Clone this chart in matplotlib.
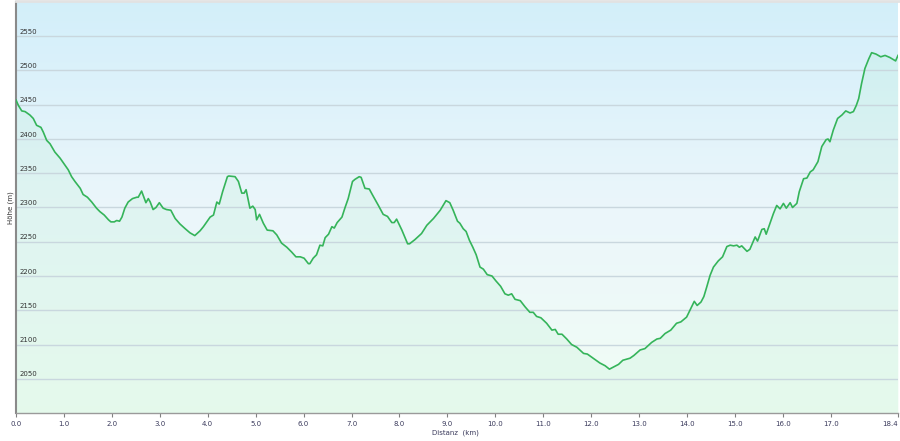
import matplotlib
matplotlib.use("Agg")
import matplotlib.pyplot as plt
import matplotlib.transforms as mtransforms
import numpy as np

######################
### Data
######################
dist_km = [
    0.00, 0.05, 0.12, 0.19, 0.29, 0.36, 0.43, 0.52, 0.57, 0.64, 0.71, 0.81, 0.92,
    1.02, 1.09, 1.16, 1.23, 1.34, 1.40, 1.49, 1.58, 1.68, 1.75, 1.84, 1.93, 1.98,
    2.05, 2.10, 2.16, 2.21, 2.27, 2.34, 2.43, 2.52, 2.55, 2.62, 2.71, 2.76, 2.80,
    2.86, 2.92, 2.99, 3.07, 3.14, 3.23, 3.32, 3.42, 3.53, 3.63, 3.73, 3.84, 3.91,
    3.98, 4.05, 4.12, 4.19, 4.24, 4.31, 4.41, 4.44, 4.57, 4.64, 4.71, 4.76, 4.80,
    4.88, 4.94, 4.99, 5.02, 5.08, 5.16, 5.24, 5.36, 5.44, 5.54, 5.65, 5.75, 5.84,
    5.93, 6.01, 6.10, 6.13, 6.20, 6.27, 6.34, 6.40, 6.45, 6.52, 6.59, 6.64, 6.70,
    6.80, 6.86, 6.93, 7.02, 7.07, 7.16, 7.20, 7.28, 7.37, 7.44, 7.56, 7.66, 7.75,
    7.84, 7.89, 7.94, 8.05, 8.17, 8.21, 8.32, 8.46, 8.57, 8.71, 8.85, 8.97, 9.05,
    9.12, 9.21, 9.26, 9.33, 9.39, 9.46, 9.53, 9.60, 9.68, 9.75, 9.83, 9.93, 10.01,
    10.11, 10.20, 10.27, 10.34, 10.41, 10.52, 10.62, 10.72, 10.79, 10.86, 10.95,
    11.07, 11.18, 11.25, 11.31, 11.39, 11.49, 11.59, 11.70, 11.84, 11.92, 12.04,
    12.18, 12.29, 12.38, 12.46, 12.57, 12.66, 12.81, 12.89, 13.02, 13.12, 13.26,
    13.37, 13.44, 13.54, 13.66, 13.78, 13.87, 13.99, 14.08, 14.15, 14.21, 14.29,
    14.35, 14.41, 14.48, 14.55, 14.65, 14.74, 14.83, 14.90, 14.97, 15.04, 15.09,
    15.14, 15.25, 15.31, 15.42, 15.47, 15.56, 15.61, 15.65, 15.73, 15.80, 15.87,
    15.94, 16.01, 16.07, 16.15, 16.20, 16.29, 16.34, 16.43, 16.50, 16.57, 16.63,
    16.73, 16.81, 16.90, 16.94, 16.98, 17.05, 17.14, 17.23, 17.31, 17.40, 17.47,
    17.53, 17.58, 17.64, 17.71, 17.79, 17.85, 17.94, 18.04, 18.13, 18.23, 18.35,
    18.40,
]
hoehe_m = [
    2457, 2449, 2441, 2440, 2435, 2430, 2420, 2417, 2410, 2398, 2393, 2381, 2372,
    2362, 2355, 2345, 2338, 2328, 2319, 2315, 2308, 2299, 2294, 2289, 2282, 2279,
    2279, 2281, 2280, 2286, 2299, 2308, 2313, 2315, 2315, 2324, 2307, 2313, 2308,
    2297, 2300, 2307, 2299, 2297, 2296, 2284, 2276, 2269, 2263, 2259, 2266, 2272,
    2279, 2286, 2289, 2308, 2305, 2323, 2345, 2346, 2345, 2338, 2321, 2321, 2326,
    2299, 2302, 2297, 2282, 2290, 2277, 2267, 2266, 2260, 2248, 2242, 2235, 2228,
    2228, 2226, 2218, 2218, 2226, 2231, 2245, 2244, 2256, 2261, 2272, 2270, 2278,
    2286, 2299, 2313, 2338, 2341, 2345, 2344, 2328, 2327, 2318, 2303, 2290, 2287,
    2278, 2278, 2283, 2267, 2247, 2247, 2253, 2262, 2274, 2284, 2296, 2310, 2307,
    2296, 2280, 2277, 2269, 2265, 2252, 2242, 2231, 2213, 2210, 2202, 2200, 2193,
    2185, 2174, 2172, 2174, 2166, 2164, 2155, 2147, 2147, 2141, 2139,
    2131, 2121, 2122, 2115, 2115, 2108, 2100, 2096, 2087, 2086, 2080,
    2073, 2069, 2064, 2067, 2071, 2077, 2080, 2084, 2092, 2094, 2103,
    2108, 2109, 2116, 2121, 2131, 2133, 2140, 2153, 2163, 2157, 2162,
    2170, 2184, 2201, 2213, 2222, 2228, 2243, 2245, 2244, 2245, 2242,
    2244, 2236, 2239, 2257, 2251, 2268, 2269, 2261, 2277, 2291, 2303,
    2298, 2306, 2299, 2307, 2300, 2306, 2323, 2342, 2343, 2352, 2355,
    2367, 2389, 2399, 2400, 2396, 2413, 2430, 2435, 2441, 2438, 2440,
    2449, 2459, 2481, 2503, 2517, 2526, 2524, 2520, 2522, 2519, 2514,
    2522,
]

y_ticks = [2050, 2100, 2150, 2200, 2250, 2300, 2350, 2400, 2450, 2500, 2550]
x_ticks = [0.0, 1.0, 2.0, 3.0, 4.0, 5.0, 6.0, 7.0, 8.0, 9.0, 10.0, 11.0, 12.0,
           13.0, 14.0, 15.0, 16.0, 17.0, 18.4]
x_tick_labels = ["%.1f" % t for t in x_ticks]

X_MIN, X_MAX = 0.0, 18.4
Y_MIN, Y_MAX = 2000, 2600

######################
### Draw
######################
fig = plt.figure(figsize=(9.0, 4.41), dpi=100, facecolor="white")
ax = fig.add_axes([16 / 900, 28 / 441, 882 / 900, 411 / 441])

# background gradient: light blue at the top, nearly white green at the bottom
stops = np.array([
    [0.827, 0.937, 0.980],   # top
    [0.922, 0.965, 0.984],   # middle
    [0.945, 0.992, 0.960],   # bottom
])
t = np.linspace(0, 1, 256)
grad = np.empty((256, 1, 3))
for c in range(3):
    grad[:, 0, c] = np.interp(t, [0, 0.5, 1], stops[:, c])
ax.imshow(grad, extent=[X_MIN, X_MAX, Y_MIN, Y_MAX], aspect="auto",
          origin="upper", zorder=0, interpolation="bilinear")

ax.fill_between(dist_km, hoehe_m, Y_MIN, color="#a6ecc2", alpha=0.16,
                linewidth=0, zorder=1)

for yt in y_ticks:
    ax.axhline(yt, color="#c9d7de", linewidth=1.0, zorder=2)

ax.plot(dist_km, hoehe_m, color="#35b45a", linewidth=1.2, zorder=3)

ax.set_xlim(X_MIN, X_MAX)
ax.set_ylim(Y_MIN, Y_MAX)

# y labels sit inside the plot, just above their grid line
ax.set_yticks([])
trans = mtransforms.blended_transform_factory(ax.transAxes, ax.transData)
for yt in y_ticks:
    ax.text(0.0045, yt + 2, str(yt), transform=trans, fontsize=5,
            color="#333333", ha="left", va="bottom", zorder=4)

ax.set_xticks(x_ticks)
ax.set_xticklabels(x_tick_labels, fontsize=5, color="#3a3a5c")
ax.get_xticklabels()[-1].set_horizontalalignment("right")
ax.tick_params(axis="x", direction="out", length=3, width=0.8,
               color="#808080", pad=3)

for side in ["top", "right"]:
    ax.spines[side].set_visible(False)
ax.spines["left"].set_color("#8a8a8a")
ax.spines["left"].set_linewidth(1.5)
ax.spines["bottom"].set_color("#9a9a9a")
ax.spines["bottom"].set_linewidth(1.0)

fig.text(455 / 900, 1 - 433 / 441, "Distanz  (km)", fontsize=5,
         color="#3a3a5c", ha="center", va="center")
fig.text(11 / 900, 1 - 208 / 441, "Höhe (m)", fontsize=5, color="#333333",
         rotation=90, ha="center", va="center")

# thin grey frame along the top edge
fig.add_artist(plt.Line2D([16 / 900, 1], [1 - 1 / 441, 1 - 1 / 441],
                          transform=fig.transFigure, color="#e2e2e2",
                          linewidth=2))

plt.savefig("out.png", dpi=100)
